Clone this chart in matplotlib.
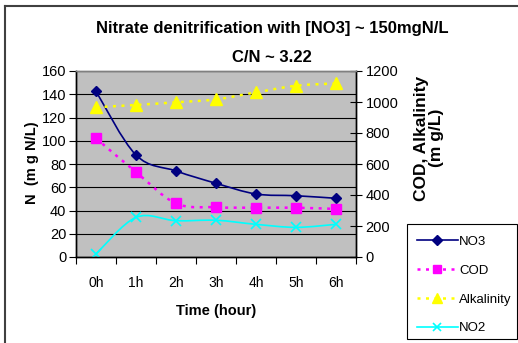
import matplotlib
matplotlib.use("Agg")
import matplotlib.pyplot as plt
from matplotlib.path import Path
from matplotlib.patches import PathPatch, Rectangle
from matplotlib.lines import Line2D
import numpy as np

plt.rcParams['font.family'] = ['Liberation Sans', 'DejaVu Sans']

hours = ["0h", "1h", "2h", "3h", "4h", "5h", "6h"]
no3 = [142.5, 87.7, 74.0, 63.4, 54.2, 52.7, 50.5]        # mg N/L (left axis)
no2 = [2.6, 34.1, 31.2, 31.6, 28.1, 25.5, 28.1]          # mg N/L (left axis)
cod = [766, 548, 346, 321, 318, 318, 310]                # mg/L (right axis)
alkalinity = [966, 981, 998, 1017, 1062, 1105, 1120]     # mg/L (right axis)

x = np.arange(len(hours))


def smooth_path(xs, ys):
    """Catmull-Rom style Bezier through the points (spreadsheet 'smoothed line')."""
    pts = np.column_stack([xs, ys]).astype(float)
    n = len(pts)
    verts = [pts[0]]
    codes = [Path.MOVETO]
    for i in range(n - 1):
        p0 = pts[i - 1] if i > 0 else pts[i]
        p1 = pts[i]
        p2 = pts[i + 1]
        p3 = pts[i + 2] if i + 2 < n else pts[i + 1]
        c1 = p1 + (p2 - p0) / 6.0
        c2 = p2 - (p3 - p1) / 6.0
        verts += [c1, c2, p2]
        codes += [Path.CURVE4] * 3
    return Path(verts, codes)


W, H = 518, 343
fig = plt.figure(figsize=(W / 100, H / 100), dpi=100)
ax = fig.add_axes([76 / W, 1 - 257 / H, (356 - 76) / W, (257 - 71) / H])
ax2 = ax.twinx()

ax.set_facecolor("#c0c0c0")
ax.set_xlim(-0.5, 6.5)
ax.set_ylim(0, 160)
ax2.set_ylim(0, 1200)
ax.set_yticks(np.arange(0, 161, 20))
ax2.set_yticks(np.arange(0, 1201, 200))
ax.yaxis.grid(True, color="#000000", linewidth=0.8)
ax.set_axisbelow(True)

navy, magenta, yellow, cyan = "#000080", "#ff00ff", "#ffff00", "#00ffff"

# NO3 and NO2 on the left axis
ax.add_patch(PathPatch(smooth_path(x, no3), fill=False, edgecolor=navy, lw=1.2, zorder=3))
ax.plot(x, no3, ls="none", marker="D", ms=5.5, color=navy, zorder=4)
ax.add_patch(PathPatch(smooth_path(x, no2), fill=False, edgecolor=cyan, lw=1.2, zorder=3))
ax.plot(x, no2, ls="none", marker="x", ms=7, mew=1.2, color=cyan, zorder=4)

# COD and alkalinity on the right axis
ax2.add_patch(PathPatch(smooth_path(x, cod), fill=False, edgecolor=magenta, lw=1.8,
                        linestyle=(0, (1.2, 2.2)), zorder=3))
ax2.plot(x, cod, ls="none", marker="s", ms=7, color=magenta, zorder=4)
ax2.add_patch(PathPatch(smooth_path(x, alkalinity), fill=False, edgecolor=yellow, lw=1.8,
                        linestyle=(0, (1.2, 2.2)), zorder=3))
ax2.plot(x, alkalinity, ls="none", marker="^", ms=8, color=yellow, zorder=4)

# category axis: ticks between categories, labels at centres
ax.set_xticks(np.arange(-0.5, 7, 1))
ax.set_xticklabels([])
ax.set_xticks(x, minor=True)
ax.set_xticklabels(hours, minor=True, fontsize=10)
ax.tick_params(axis="x", which="major", direction="out", length=5, color="#000000")
ax.tick_params(axis="x", which="minor", length=0, pad=14)
ax.tick_params(axis="y", direction="out", length=5, labelsize=10.5, pad=2)
ax2.tick_params(axis="y", direction="inout", length=8, labelsize=10.5, pad=3)

for a in (ax, ax2):
    for s in a.spines.values():
        s.set_color("#000000")
        s.set_linewidth(1.0)
ax.spines["top"].set_color("#808080")
ax2.spines["top"].set_color("#808080")

# axis titles
fig.text(32 / W, 1 - 163 / H, "N  (m g N/L)", rotation=90, ha="center", va="center",
         fontsize=10.5, fontweight="bold")
fig.text(429 / W, 1 - 138 / H, "COD, Alkalinity\n(m g/L)", rotation=90, ha="center",
         va="center", fontsize=12.5, fontweight="bold", linespacing=0.95,
         multialignment="center")
ax.set_xlabel("Time (hour)", fontsize=10.5, fontweight="bold", labelpad=10)

fig.text(272 / W, 1 - 28 / H, "Nitrate denitrification with [NO3] ~ 150mgN/L",
         ha="center", va="center", fontsize=12, fontweight="bold")
fig.text(272 / W, 1 - 57 / H, "C/N ~ 3.22", ha="center", va="center",
         fontsize=12, fontweight="bold")

handles = [
    Line2D([], [], color=navy, lw=1.2, marker="D", ms=5),
    Line2D([], [], color=magenta, lw=1.8, ls=(0, (1.2, 2.2)), marker="s", ms=6),
    Line2D([], [], color=yellow, lw=1.8, ls=(0, (1.2, 2.2)), marker="^", ms=7),
    Line2D([], [], color=cyan, lw=1.2, marker="x", ms=6, mew=1.2),
]
leg = fig.legend(handles, ["NO3", "COD", "Alkalinity", "NO2"],
                 loc="upper left", bbox_to_anchor=(405 / W, 1 - 224 / H),
                 fontsize=9.5, frameon=False,
                 handlelength=3.1, handletextpad=0.1, labelspacing=1.25,
                 borderpad=0.9, borderaxespad=0)
# legend box
fig.add_artist(Rectangle((407 / W, 1 - 339 / H), (517 - 407) / W, (339 - 224) / H,
                         transform=fig.transFigure, fill=False, edgecolor="#000000",
                         lw=0.8))

# chart border
fig.add_artist(Line2D([4.5 / W, 4.5 / W], [0, 1 - 6 / H], transform=fig.transFigure,
                      color="#404040", lw=1.5))
fig.add_artist(Line2D([4.5 / W, 1], [1 - 6 / H, 1 - 6 / H], transform=fig.transFigure,
                      color="#404040", lw=1.5))

fig.savefig("out.png", dpi=100, facecolor="white")
